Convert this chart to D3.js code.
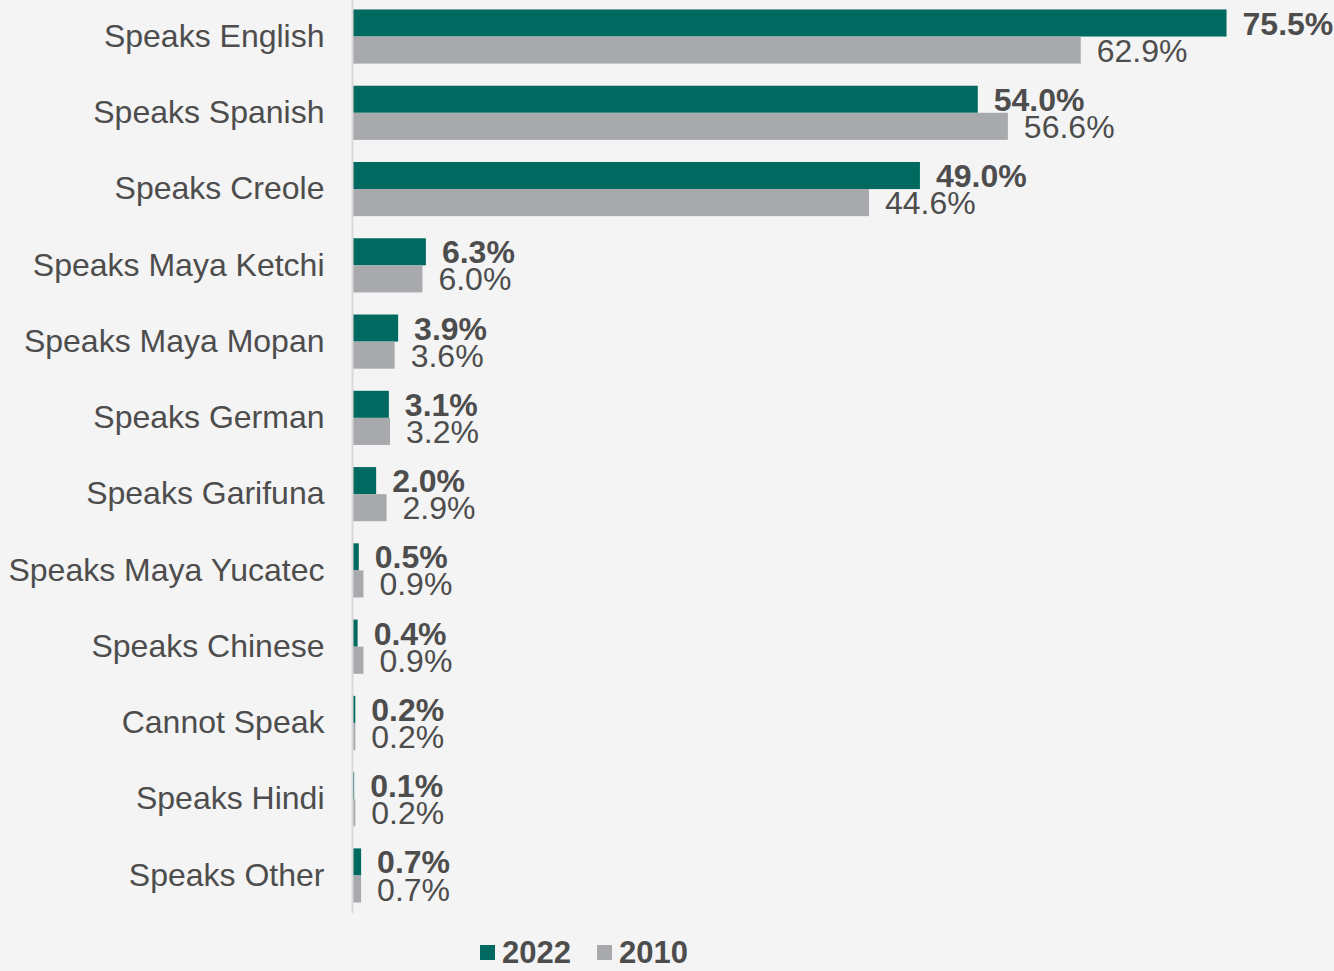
<!DOCTYPE html>
<html>
<head>
<meta charset="utf-8">
<script src="https://cdn.jsdelivr.net/npm/d3@7"></script>
<style>
  html, body { margin: 0; padding: 0; background: #f4f4f4; }
  svg { display: block; font-family: "Liberation Sans", Arial, sans-serif; }
</style>
</head>
<body>
<div id="chart"></div>
<script>
// chart data
var categories = ["Speaks English", "Speaks Spanish", "Speaks Creole", "Speaks Maya Ketchi",
  "Speaks Maya Mopan", "Speaks German", "Speaks Garifuna", "Speaks Maya Yucatec",
  "Speaks Chinese", "Cannot Speak", "Speaks Hindi", "Speaks Other"];
var series = ["2022", "2010"];
var values2022 = [75.5, 54.0, 49.0, 6.3, 3.9, 3.1, 2.0, 0.5, 0.4, 0.2, 0.1, 0.7];
var values2010 = [62.9, 56.6, 44.6, 6.0, 3.6, 3.2, 2.9, 0.9, 0.9, 0.2, 0.2, 0.7];

var width = 1334, height = 971;
var colors = { "2022": "#006a60", "2010": "#a7a9ac" };
var textColor = "#4d4d4d";
var fontSize = "32px";

var svg = d3.select("#chart")
    .append("svg")
    .attr("width", width)
    .attr("height", height);

svg.append("rect")
    .attr("width", width)
    .attr("height", height)
    .attr("fill", "#f4f4f4");

// build rows from the arrays
var rows = categories.map(function (c, i) {
  return { cat: c, "2022": values2022[i], "2010": values2010[i] };
});

// scales
var x = d3.scaleLinear()
    .domain([0, 80])
    .range([353, 353 + 80 * 11.57]);

var y = d3.scaleBand()
    .domain(categories)
    .range([-1.6, 913.6])
    .paddingInner(0.29)
    .paddingOuter(0.145);

var ySub = d3.scaleBand()
    .domain(series)
    .range([0, y.bandwidth()]);

// bars
var groups = svg.append("g").selectAll("g")
    .data(rows)
    .join("g")
    .attr("transform", function (d) { return "translate(0," + y(d.cat) + ")"; });

groups.selectAll("rect")
    .data(function (d) { return series.map(function (s) { return { key: s, value: d[s] }; }); })
    .join("rect")
    .attr("x", x(0))
    .attr("y", function (d) { return ySub(d.key); })
    .attr("width", function (d) { return x(d.value) - x(0); })
    .attr("height", ySub.bandwidth())
    .attr("fill", function (d) { return colors[d.key]; });

// value labels
groups.selectAll("text")
    .data(function (d) { return series.map(function (s) { return { key: s, value: d[s] }; }); })
    .join("text")
    .attr("x", function (d) { return x(d.value) + 16; })
    .attr("y", function (d) { return ySub(d.key) + ySub.bandwidth() / 2; })
    .attr("dy", "0.36em")
    .attr("fill", textColor)
    .style("font-size", fontSize)
    .style("font-weight", function (d) { return d.key === "2022" ? "bold" : "normal"; })
    .text(function (d) { return d.value.toFixed(1) + "%"; });

// y axis (category labels + light axis line)
var yAxis = svg.append("g")
    .attr("transform", "translate(" + (x(0) - 0.5) + ",0)")
    .call(d3.axisLeft(y).tickSize(0).tickPadding(28));
yAxis.select(".domain")
    .attr("stroke", "#d9d9d9")
    .attr("stroke-width", 2)
    .attr("d", "M0,0V913");
yAxis.selectAll("text")
    .attr("fill", textColor)
    .style("font-size", fontSize)
    .style("font-family", "'Liberation Sans', Arial, sans-serif");

// legend
var legendX = [480, 597];
var legend = svg.append("g").selectAll("g")
    .data(series)
    .join("g")
    .attr("transform", function (d, i) { return "translate(" + legendX[i] + ",945)"; });
legend.append("rect")
    .attr("width", 15)
    .attr("height", 15)
    .attr("fill", function (d) { return colors[d]; });
legend.append("text")
    .attr("x", 22)
    .attr("y", 7)
    .attr("dy", "0.36em")
    .attr("fill", textColor)
    .style("font-size", "31px")
    .style("font-weight", "bold")
    .text(function (d) { return d; });
</script>
</body>
</html>
